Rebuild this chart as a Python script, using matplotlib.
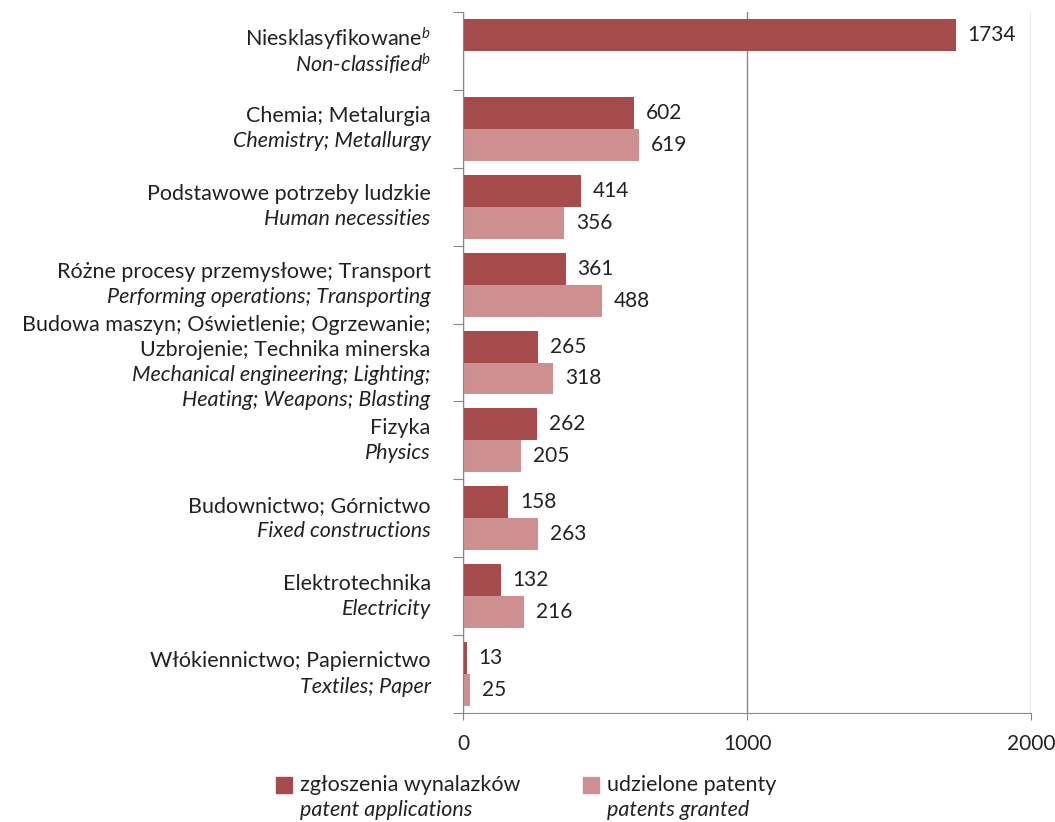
import matplotlib
matplotlib.use('Agg')
from matplotlib import pyplot as plt
from matplotlib.patches import Rectangle
import numpy as np

labels_pl = ['Niesklasyfikowane$^{b}$', 'Chemia; Metalurgia', 'Podstawowe potrzeby ludzkie',
             'Różne procesy przemysłowe; Transport',
             'Budowa maszyn; Oświetlenie; Ogrzewanie;\nUzbrojenie; Technika minerska',
             'Fizyka', 'Budownictwo; Górnictwo', 'Elektrotechnika', 'Włókiennictwo; Papiernictwo']
labels_en = ['Non-classified$^{b}$', 'Chemistry; Metallurgy', 'Human necessities',
             'Performing operations; Transporting',
             'Mechanical engineering; Lighting;\nHeating; Weapons; Blasting',
             'Physics', 'Fixed constructions', 'Electricity', 'Textiles; Paper']
applications = [1734, 602, 414, 361, 265, 262, 158, 132, 13]
granted = [np.nan, 619, 356, 488, 318, 205, 263, 216, 25]
legend_pl = ['zgłoszenia wynalazków', 'udzielone patenty']
legend_en = ['patent applications', 'patents granted']

dark = '#A54B4B'
light = '#CD8F8F'
plt.rcParams['font.family'] = ['Lato', 'DejaVu Sans']
plt.rcParams['mathtext.fontset'] = 'custom'
plt.rcParams['mathtext.it'] = 'Lato:italic'
plt.rcParams['mathtext.rm'] = 'Lato'

fig = plt.figure(figsize=(10.55, 8.22), dpi=100)
ax = fig.add_axes([0.4389, 0.1326, 0.5384, 0.8528])

y = np.arange(len(applications))
h = 0.41
ax.barh(y - 0.205, applications, height=h, color=dark)
ax.barh(y + 0.205, granted, height=h, color=light)

for i in range(len(y)):
    ax.text(applications[i] + 42, y[i] - 0.205, str(applications[i]), va='center', ha='left',
            fontsize=15, color='#222222')
    if not np.isnan(granted[i]):
        ax.text(granted[i] + 42, y[i] + 0.205, str(int(granted[i])), va='center', ha='left',
                fontsize=15, color='#222222')
    lines = [(s, 'normal') for s in labels_pl[i].split('\n')] + [(s, 'italic') for s in labels_en[i].split('\n')]
    n = len(lines)
    for k, (s, st) in enumerate(lines):
        if st == 'italic':
            s = s.replace('$^{b}$', '$^{\\it{b}}$')
        ax.text(-0.057, y[i] + (k - (n - 1) / 2) * 0.325, s, transform=ax.get_yaxis_transform(),
                ha='right', va='center', fontsize=15.5, style=st, color='#222222')

ax.set_ylim(len(y) - 0.5, -0.5)
ax.set_xlim(0, 2000)
ax.set_xticks([0, 1000, 2000])
ax.set_yticks(np.arange(-0.5, len(y), 1))
ax.set_yticklabels([])
ax.tick_params(axis='y', length=7, color='#888888')
ax.tick_params(axis='x', length=5, color='#888888', labelsize=15, pad=10, labelcolor='#222222')
ax.grid(axis='x', color='#888888', linewidth=1)
ax.set_axisbelow(True)
for s in ['top', 'right']:
    ax.spines[s].set_visible(False)
for s in ['left', 'bottom']:
    ax.spines[s].set_color('#888888')

# legend
for j, (px, col) in enumerate([(276, dark), (583, light)]):
    fig.patches.append(Rectangle((px / 1055, 1 - 793 / 822), 16 / 1055, 16 / 822,
                                 transform=fig.transFigure, color=col))
    fig.text((px + 24) / 1055, 1 - 785 / 822, legend_pl[j], fontsize=15.5, va='center', color='#222222')
    fig.text((px + 24) / 1055, 1 - 810 / 822, legend_en[j], fontsize=15.5, va='center',
             style='italic', color='#222222')

plt.savefig('out.png', dpi=100)
